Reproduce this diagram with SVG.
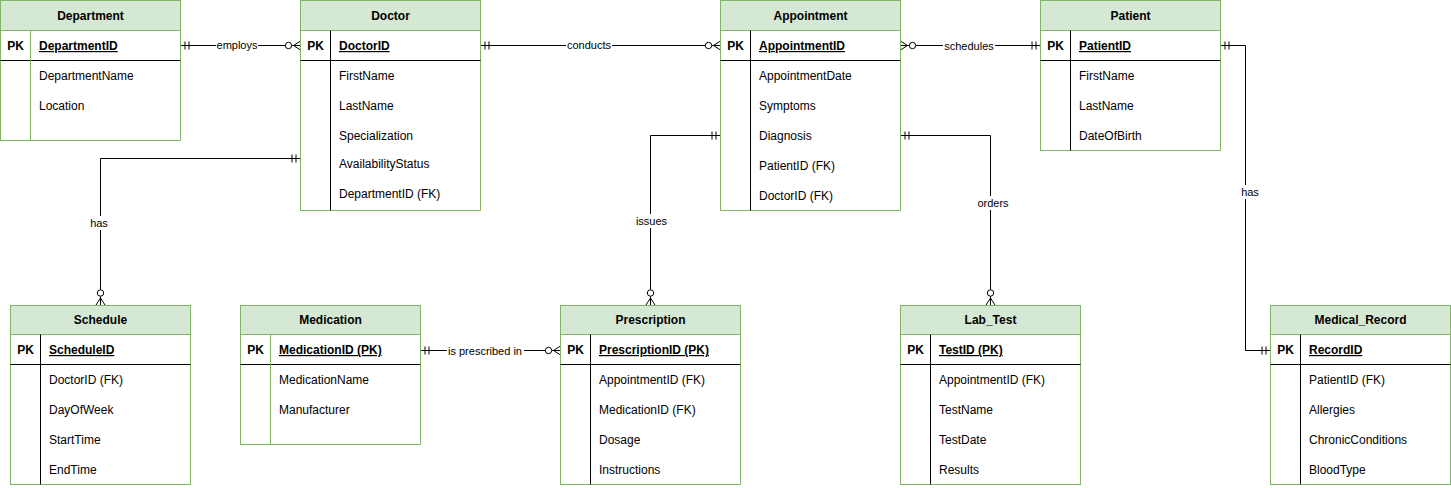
<svg xmlns="http://www.w3.org/2000/svg" width="1451" height="488" viewBox="0 0 1451 488">
<style>
.hdr{fill:#d5e8d4;stroke:#82b366;stroke-width:1}
.body{fill:#ffffff;stroke:#82b366;stroke-width:1}
.sep{stroke:#000000;stroke-width:1;fill:none}
.gsep{stroke:#82b366;stroke-width:1;fill:none}
text{font-family:"Liberation Sans",Arial,sans-serif;fill:#000000}
.title{font-size:12px;font-weight:bold;text-anchor:middle}
.pk{font-size:12px;font-weight:bold;text-anchor:middle}
.pkf{font-size:12px;font-weight:bold;text-decoration:underline}
.fld{font-size:12px}
.edge{stroke:#000000;stroke-width:1;fill:none}
.lbl{font-size:11px;text-anchor:middle}
.lblbg{fill:#ffffff;stroke:none}
</style>
<defs>
<marker id="one" viewBox="0 0 20 20" markerWidth="20" markerHeight="20" refX="20" refY="10" markerUnits="userSpaceOnUse" orient="auto-start-reverse">
<path d="M11.5,6 V14 M15.5,6 V14" stroke="#000" stroke-width="1" fill="none"/>
</marker>
<marker id="many" viewBox="0 0 20 20" markerWidth="20" markerHeight="20" refX="20" refY="10" markerUnits="userSpaceOnUse" orient="auto-start-reverse">
<path d="M13,10 L20,5.5 M13,10 L20,14.5 M11,10 H20" stroke="#000" stroke-width="1" fill="none"/>
<circle cx="8" cy="10" r="3.2" fill="#fff" stroke="#000" stroke-width="1"/>
</marker>
</defs>

<g id="connectors">
<path class="edge" d="M180.5,45.5 H300.5" marker-start="url(#one)" marker-end="url(#many)"/>
<path class="edge" d="M480.5,45.5 H720.5" marker-start="url(#one)" marker-end="url(#many)"/>
<path class="edge" d="M900.5,45.5 H1040.5" marker-start="url(#many)" marker-end="url(#one)"/>
<path class="edge" d="M1220.5,45.5 H1245.5 V350.5 H1270.5" marker-start="url(#one)" marker-end="url(#one)"/>
<path class="edge" d="M300.5,158.5 H100.5 V305" marker-start="url(#one)" marker-end="url(#many)"/>
<path class="edge" d="M720.5,135.5 H650.5 V305" marker-start="url(#one)" marker-end="url(#many)"/>
<path class="edge" d="M900.5,135.5 H990.5 V305" marker-start="url(#one)" marker-end="url(#many)"/>
<path class="edge" d="M420.5,350.5 H560.5" marker-start="url(#one)" marker-end="url(#many)"/>
<rect class="lblbg" x="216" y="38" width="42" height="14"/>
<text class="lbl" x="237" y="49">employs</text>
<rect class="lblbg" x="566" y="38" width="46" height="14"/>
<text class="lbl" x="589" y="49">conducts</text>
<rect class="lblbg" x="943" y="39" width="52" height="14"/>
<text class="lbl" x="969" y="50">schedules</text>
<rect class="lblbg" x="1240" y="185" width="20" height="14"/>
<text class="lbl" x="1250" y="196">has</text>
<rect class="lblbg" x="89" y="216" width="20" height="14"/>
<text class="lbl" x="99" y="227">has</text>
<rect class="lblbg" x="635" y="214" width="33" height="14"/>
<text class="lbl" x="651.5" y="225">issues</text>
<rect class="lblbg" x="977" y="196" width="32" height="14"/>
<text class="lbl" x="993" y="207">orders</text>
<rect class="lblbg" x="447" y="344" width="77" height="14"/>
<text class="lbl" x="485" y="355">is prescribed in</text>
</g>

<g id="department">
<rect class="body" x="0.5" y="0.5" width="180" height="140"/>
<rect class="hdr" x="0.5" y="0.5" width="180" height="30"/>
<path class="sep" d="M0.5,60.5 H180.5"/>
<path class="gsep" d="M30.5,30.5 V140.5"/>
<text class="title" x="90.5" y="20">Department</text>
<text class="pk" x="15.5" y="50">PK</text>
<text class="pkf" x="39" y="50">DepartmentID</text>
<text class="fld" x="39" y="80">DepartmentName</text>
<text class="fld" x="39" y="110">Location</text>
</g>

<g id="doctor">
<rect class="body" x="300.5" y="0.5" width="180" height="210"/>
<rect class="hdr" x="300.5" y="0.5" width="180" height="30"/>
<path class="sep" d="M300.5,60.5 H480.5 M330.5,30.5 V210.5"/>
<text class="title" x="390.5" y="20">Doctor</text>
<text class="pk" x="315.5" y="50">PK</text>
<text class="pkf" x="339" y="50">DoctorID</text>
<text class="fld" x="339" y="80">FirstName</text>
<text class="fld" x="339" y="110">LastName</text>
<text class="fld" x="339" y="140">Specialization</text>
<text class="fld" x="339" y="168">AvailabilityStatus</text>
<text class="fld" x="339" y="198">DepartmentID (FK)</text>
</g>

<g id="appointment">
<rect class="body" x="720.5" y="0.5" width="180" height="210"/>
<rect class="hdr" x="720.5" y="0.5" width="180" height="30"/>
<path class="sep" d="M720.5,60.5 H900.5 M750.5,30.5 V210.5"/>
<text class="title" x="810.5" y="20">Appointment</text>
<text class="pk" x="735.5" y="50">PK</text>
<text class="pkf" x="759" y="50">AppointmentID</text>
<text class="fld" x="759" y="80">AppointmentDate</text>
<text class="fld" x="759" y="110">Symptoms</text>
<text class="fld" x="759" y="140">Diagnosis</text>
<text class="fld" x="759" y="170">PatientID (FK)</text>
<text class="fld" x="759" y="200">DoctorID (FK)</text>
</g>

<g id="patient">
<rect class="body" x="1040.5" y="0.5" width="180" height="150"/>
<rect class="hdr" x="1040.5" y="0.5" width="180" height="30"/>
<path class="sep" d="M1040.5,60.5 H1220.5 M1070.5,30.5 V150.5"/>
<text class="title" x="1130.5" y="20">Patient</text>
<text class="pk" x="1055.5" y="50">PK</text>
<text class="pkf" x="1079" y="50">PatientID</text>
<text class="fld" x="1079" y="80">FirstName</text>
<text class="fld" x="1079" y="110">LastName</text>
<text class="fld" x="1079" y="140">DateOfBirth</text>
</g>

<g id="schedule">
<rect class="body" x="10.5" y="305.5" width="180" height="179"/>
<rect class="hdr" x="10.5" y="305.5" width="180" height="29"/>
<path class="sep" d="M10.5,364.5 H190.5 M40.5,334.5 V484.5"/>
<text class="title" x="100.5" y="324">Schedule</text>
<text class="pk" x="25.5" y="354">PK</text>
<text class="pkf" x="49" y="354">ScheduleID</text>
<text class="fld" x="49" y="384">DoctorID (FK)</text>
<text class="fld" x="49" y="414">DayOfWeek</text>
<text class="fld" x="49" y="444">StartTime</text>
<text class="fld" x="49" y="474">EndTime</text>
</g>

<g id="medication">
<rect class="body" x="240.5" y="305.5" width="180" height="139"/>
<rect class="hdr" x="240.5" y="305.5" width="180" height="29"/>
<path class="sep" d="M240.5,364.5 H420.5"/>
<path class="gsep" d="M270.5,334.5 V444.5"/>
<text class="title" x="330.5" y="324">Medication</text>
<text class="pk" x="255.5" y="354">PK</text>
<text class="pkf" x="279" y="354">MedicationID (PK)</text>
<text class="fld" x="279" y="384">MedicationName</text>
<text class="fld" x="279" y="414">Manufacturer</text>
</g>

<g id="prescription">
<rect class="body" x="560.5" y="305.5" width="180" height="179"/>
<rect class="hdr" x="560.5" y="305.5" width="180" height="29"/>
<path class="sep" d="M560.5,364.5 H740.5 M590.5,334.5 V484.5"/>
<text class="title" x="650.5" y="324">Prescription</text>
<text class="pk" x="575.5" y="354">PK</text>
<text class="pkf" x="599" y="354">PrescriptionID (PK)</text>
<text class="fld" x="599" y="384">AppointmentID (FK)</text>
<text class="fld" x="599" y="414">MedicationID (FK)</text>
<text class="fld" x="599" y="444">Dosage</text>
<text class="fld" x="599" y="474">Instructions</text>
</g>

<g id="lab_test">
<rect class="body" x="900.5" y="305.5" width="180" height="179"/>
<rect class="hdr" x="900.5" y="305.5" width="180" height="29"/>
<path class="sep" d="M900.5,364.5 H1080.5 M930.5,334.5 V484.5"/>
<text class="title" x="990.5" y="324">Lab_Test</text>
<text class="pk" x="915.5" y="354">PK</text>
<text class="pkf" x="939" y="354">TestID (PK)</text>
<text class="fld" x="939" y="384">AppointmentID (FK)</text>
<text class="fld" x="939" y="414">TestName</text>
<text class="fld" x="939" y="444">TestDate</text>
<text class="fld" x="939" y="474">Results</text>
</g>

<g id="medical_record">
<rect class="body" x="1270.5" y="305.5" width="180" height="179"/>
<rect class="hdr" x="1270.5" y="305.5" width="180" height="29"/>
<path class="sep" d="M1270.5,364.5 H1450.5 M1300.5,334.5 V484.5"/>
<text class="title" x="1360.5" y="324">Medical_Record</text>
<text class="pk" x="1285.5" y="354">PK</text>
<text class="pkf" x="1309" y="354">RecordID</text>
<text class="fld" x="1309" y="384">PatientID (FK)</text>
<text class="fld" x="1309" y="414">Allergies</text>
<text class="fld" x="1309" y="444">ChronicConditions</text>
<text class="fld" x="1309" y="474">BloodType</text>
</g>
</svg>
